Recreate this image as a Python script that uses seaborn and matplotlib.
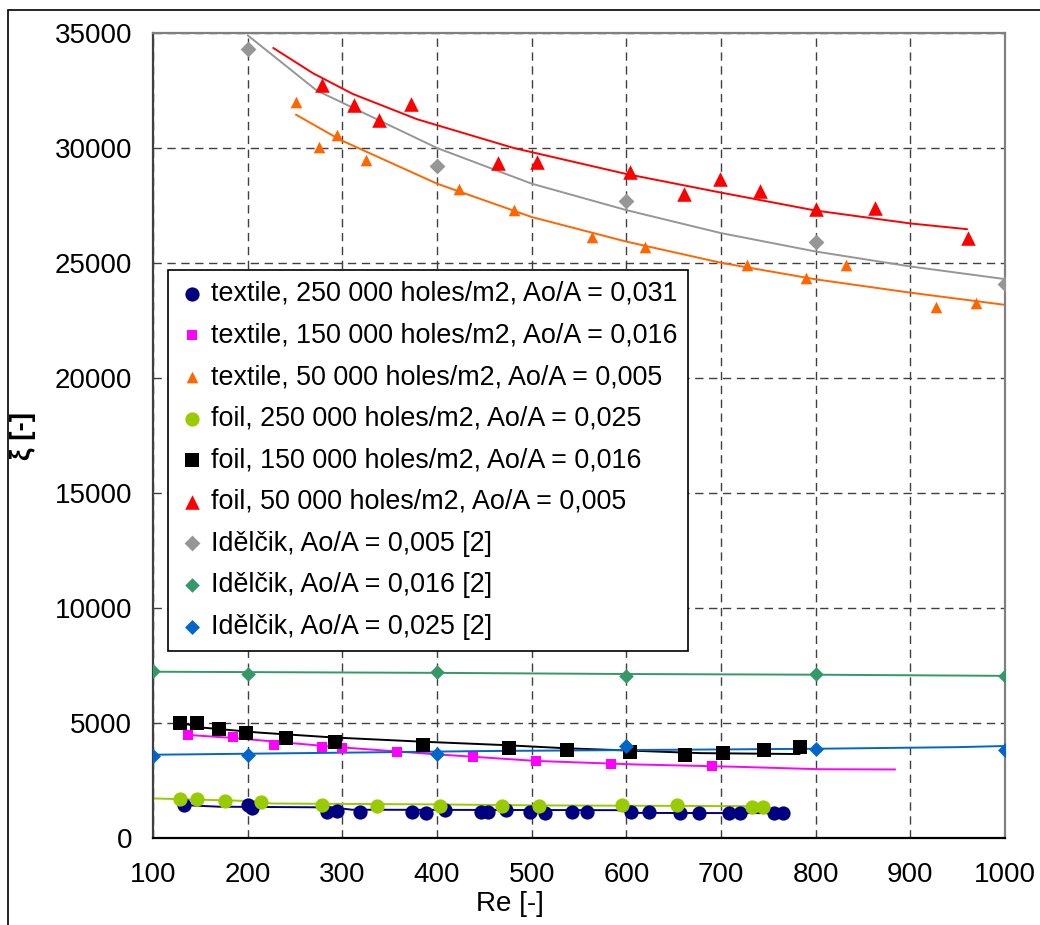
import matplotlib
matplotlib.use("Agg")
import matplotlib.pyplot as plt
from matplotlib.patches import Rectangle
import seaborn as sns

tex250_re = [133, 200, 205, 284, 294, 319, 374, 388, 408, 447, 454, 473, 498, 514,
             543, 558, 605, 624, 657, 677, 708, 720, 756, 765]
tex250_xi = [1430, 1440, 1290, 1120, 1190, 1150, 1120, 1080, 1220, 1150, 1150, 1220, 1120, 1080,
             1150, 1150, 1150, 1150, 1080, 1080, 1080, 1080, 1080, 1080]

tex150_re = [137, 185, 228, 279, 300, 358, 438, 505, 584, 690]
tex150_xi = [4480, 4370, 4040, 3970, 3900, 3750, 3530, 3360, 3230, 3140]

tex50_re = [251, 275, 294, 325, 423, 481, 564, 620, 727, 790, 832, 927, 969]
tex50_xi = [32000, 30050, 30550, 29500, 28200, 27300, 26150, 25700, 24900, 24350, 24900, 23100, 23250]

foil250_re = [129, 146, 176, 214, 279, 337, 403, 469, 508, 595, 654, 733, 744]
foil250_xi = [1680, 1680, 1620, 1550, 1440, 1390, 1400, 1400, 1400, 1450, 1450, 1360, 1360]

foil150_re = [129, 146, 170, 198, 241, 292, 385, 476, 537, 604, 662, 702, 745, 783]
foil150_xi = [5000, 5000, 4720, 4550, 4330, 4180, 4040, 3920, 3830, 3730, 3600, 3680, 3830, 3970]

foil50_re = [278, 312, 339, 373, 464, 506, 604, 661, 699, 741, 800, 863, 961]
foil50_xi = [32750, 31850, 31200, 31900, 29350, 29400, 28950, 28000, 28650, 28150, 27350, 27400, 26100]

id_re = [200, 400, 600, 800, 1000]
id005_xi = [34300, 29200, 27700, 25900, 24100]
id_re2 = [100, 200, 400, 600, 800, 1000]
id016_xi = [7250, 7150, 7200, 7050, 7150, 7050]
id025_xi = [3550, 3600, 3650, 4000, 3870, 3830]

# ---- trend lines ----
tex250_tr_re = [133, 170, 290, 310, 590, 610, 765]
tex250_tr_xi = [1430, 1360, 1330, 1230, 1210, 1090, 1080]
tex150_tr_re = [137, 185, 289, 395, 505, 608, 713, 805, 884]
tex150_tr_xi = [4480, 4350, 3970, 3650, 3350, 3200, 3100, 2990, 2980]
tex50_tr_re = [251, 298, 400, 500, 600, 700, 800, 900, 1000]
tex50_tr_xi = [31450, 30350, 28450, 27000, 25930, 25010, 24290, 23710, 23180]
foil250_tr_re = [100, 210, 225, 400, 500, 746]
foil250_tr_xi = [1720, 1600, 1500, 1460, 1420, 1380]
foil150_tr_re = [129, 152, 213, 291, 383, 468, 537, 678, 783]
foil150_tr_xi = [5010, 4800, 4580, 4370, 4190, 4045, 3900, 3690, 3650]
foil50_tr_re = [227, 269, 311, 379, 481, 600, 700, 800, 900, 960]
foil50_tr_xi = [34350, 33250, 32350, 31250, 30000, 28870, 28060, 27280, 26720, 26470]
id005_tr_re = [200, 273, 400, 500, 600, 700, 800, 900, 1000]
id005_tr_xi = [34900, 32500, 30000, 28450, 27300, 26300, 25500, 24850, 24300]
id016_tr_re = [100, 400, 600, 800, 1000]
id016_tr_xi = [7230, 7180, 7130, 7100, 7050]
id025_tr_re = [100, 280, 450, 800, 950, 1000]
id025_tr_xi = [3620, 3700, 3780, 3880, 3950, 4000]

labels = [
    "textile, 250 000 holes/m2, Ao/A = 0,031",
    "textile, 150 000 holes/m2, Ao/A = 0,016",
    "textile, 50 000 holes/m2, Ao/A = 0,005",
    "foil, 250 000 holes/m2, Ao/A = 0,025",
    "foil, 150 000 holes/m2, Ao/A = 0,016",
    "foil, 50 000 holes/m2, Ao/A = 0,005",
    "Idělčik, Ao/A = 0,005 [2]",
    "Idělčik, Ao/A = 0,016 [2]",
    "Idělčik, Ao/A = 0,025 [2]",
]

series = [
    (tex250_re, tex250_xi, tex250_tr_re, tex250_tr_xi, "#000080", "o", 105),
    (tex150_re, tex150_xi, tex150_tr_re, tex150_tr_xi, "#FF00FF", "s", 55),
    (tex50_re, tex50_xi, tex50_tr_re, tex50_tr_xi, "#FF6600", "^", 70),
    (foil250_re, foil250_xi, foil250_tr_re, foil250_tr_xi, "#99CC00", "o", 105),
    (foil150_re, foil150_xi, foil150_tr_re, foil150_tr_xi, "#000000", "s", 105),
    (foil50_re, foil50_xi, foil50_tr_re, foil50_tr_xi, "#FF0000", "^", 110),
    (id_re, id005_xi, id005_tr_re, id005_tr_xi, "#969696", "D", 65),
    (id_re2, id016_xi, id016_tr_re, id016_tr_xi, "#339966", "D", 55),
    (id_re2, id025_xi, id025_tr_re, id025_tr_xi, "#0066CC", "D", 58),
]

sns.set_style("white")
plt.rcParams["font.family"] = ["Liberation Sans", "DejaVu Sans"]
plt.rcParams["text.color"] = "black"
plt.rcParams["xtick.color"] = "black"
plt.rcParams["ytick.color"] = "black"
plt.rcParams["axes.labelcolor"] = "black"
FS_TICK = 20
FS_LEG = 19.4

fig = plt.figure(figsize=(10.4, 9.25), dpi=100)
ax = fig.add_axes([153 / 1040, 87 / 925, 852 / 1040, 805 / 925])

for (re, xi, tre, txi, col, mk, sz), lab in zip(series, labels):
    sns.lineplot(x=tre, y=txi, color=col, lw=1.4, sort=False, estimator=None,
                 ax=ax, zorder=2)
    sns.scatterplot(x=re, y=xi, color=col, marker=mk, s=sz, linewidth=0,
                    label=lab, ax=ax, zorder=3, legend=False)

ax.set_xlim(100, 1000)
ax.set_ylim(0, 35000)
ax.set_xticks(range(100, 1001, 100))
ax.set_yticks(range(0, 35001, 5000))
ax.grid(True, linestyle=(0, (6, 4)), color="#404040", linewidth=1.0)
ax.set_axisbelow(True)
ax.tick_params(axis="both", direction="out", length=6, width=1.2,
               labelsize=FS_TICK, color="#404040")
ax.tick_params(axis="x", pad=11)
ax.tick_params(axis="y", pad=9)

for side, col in [("left", "#404040"), ("bottom", "#000000"),
                  ("top", "#808080"), ("right", "#808080")]:
    ax.spines[side].set_visible(True)
    ax.spines[side].set_color(col)
    ax.spines[side].set_linewidth(1.6)

ax.set_xlabel("Re [-]", fontsize=FS_TICK)
ax.xaxis.set_label_coords((510 - 153) / 852, -0.066)
ax.set_ylabel("ξ [-]", fontsize=FS_TICK, fontweight="bold")
ax.yaxis.set_label_coords(-(153 - 36) / 852, 0.5)

leg = ax.legend(loc="upper left", bbox_to_anchor=((168 - 153) / 852, (838 - 270) / 805),
                borderaxespad=0, fontsize=FS_LEG, frameon=True, fancybox=False,
                edgecolor="#000000", framealpha=1, handlelength=1.0,
                handletextpad=0.2, labelspacing=0.58, borderpad=0.4,
                markerscale=1.0)
leg.get_frame().set_linewidth(1.2)

# outer chart border (only left and top edges are visible in the crop)
fig.patches.append(Rectangle((8 / 1040, -0.1), 1.2, (925 - 10) / 925 + 0.1,
                             transform=fig.transFigure, fill=False,
                             edgecolor="#000000", linewidth=1.2))

fig.savefig("out.png", dpi=100)
plt.close(fig)
